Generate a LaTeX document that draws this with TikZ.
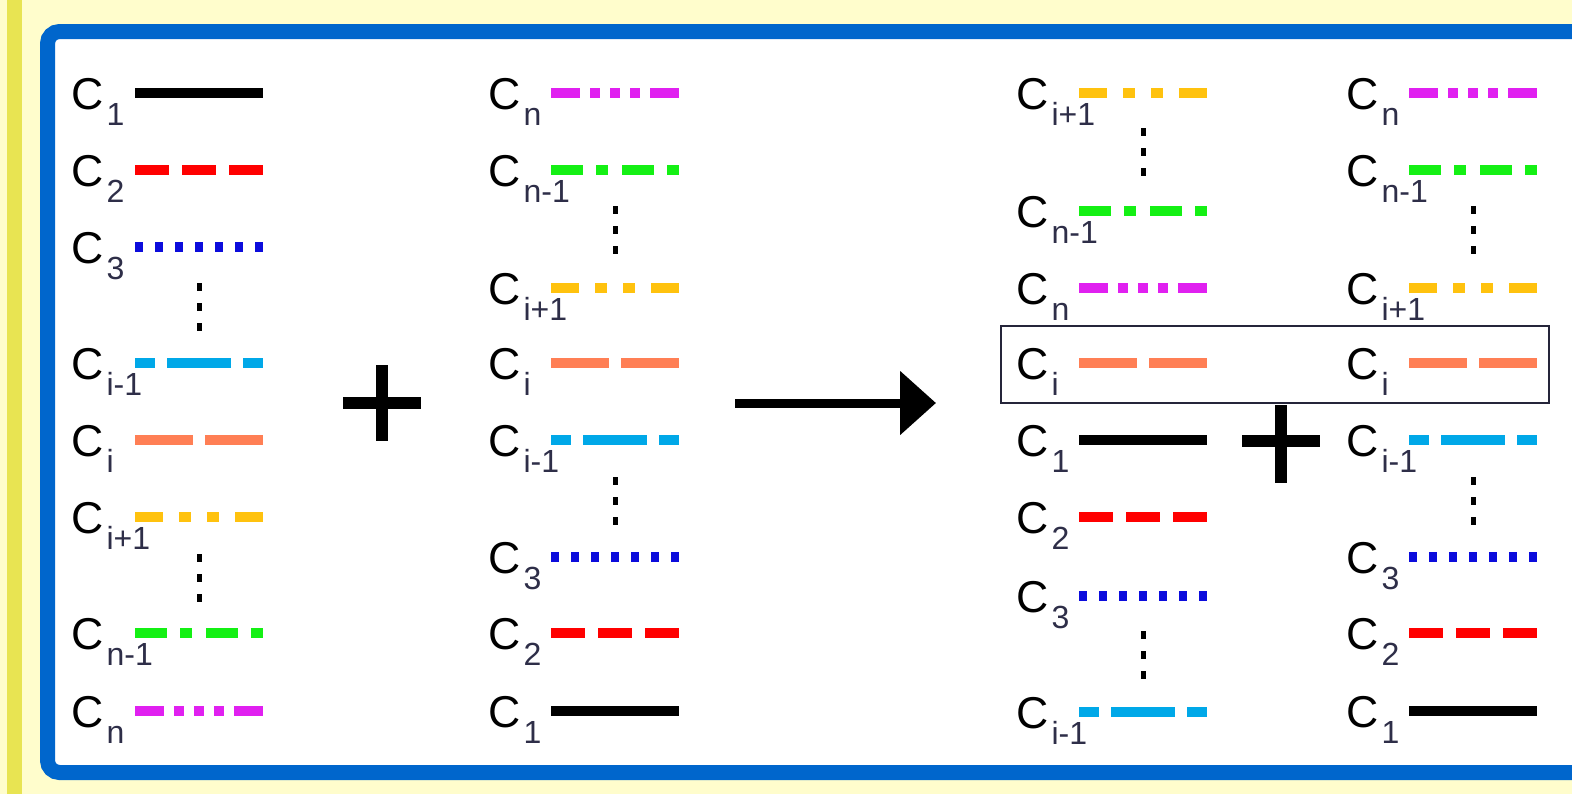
\documentclass[tikz,border=0pt]{standalone}
\usepackage{fontspec}
\setmainfont{Liberation Sans}
\usetikzlibrary{arrows.meta}
\definecolor{bgyellow}{HTML}{FFFDCC}
\definecolor{stripeyellow}{HTML}{E8E452}
\definecolor{frameblue}{HTML}{0066CC}
\definecolor{subgray}{HTML}{2E2E48}
\definecolor{cred}{HTML}{FF0000}
\definecolor{cblue}{HTML}{0C0CDC}
\definecolor{ccyan}{HTML}{00A8E8}
\definecolor{csalmon}{HTML}{FF7F55}
\definecolor{corange}{HTML}{FFC20E}
\definecolor{cgreen}{HTML}{14F014}
\definecolor{cmagenta}{HTML}{E020F0}
\newcommand{\csubs}[1]{\kern1.5pt\raisebox{-8pt}{\fontsize{16}{16}\selectfont\color{subgray}#1}}
\tikzstyle{clabel} = [anchor=base west, inner sep=0pt, font=\fontsize{22.3}{24}\selectfont]
\tikzstyle{strand} = [line width=4.75pt]
\tikzstyle{c1line} = [strand, black]
\tikzstyle{c2line} = [strand, cred, dash pattern=on 17pt off 6.5pt]
\tikzstyle{c3line} = [strand, cblue, dash pattern=on 4pt off 6pt]
\tikzstyle{cim1line} = [strand, ccyan, dash pattern=on 10pt off 6pt on 32pt off 6pt on 10pt off 20pt]
\tikzstyle{ciline} = [strand, csalmon, dash pattern=on 29pt off 6pt on 29pt off 20pt]
\tikzstyle{cip1line} = [strand, corange, dash pattern=on 14pt off 8pt on 6pt off 8pt on 6pt off 8pt on 14pt off 20pt]
\tikzstyle{cnm1line} = [strand, cgreen, dash pattern=on 16pt off 6.5pt on 6pt off 7pt]
\tikzstyle{cnline} = [strand, cmagenta, dash pattern=on 14.5pt off 5pt on 5pt off 5pt on 5pt off 5pt on 5pt off 5pt on 14.5pt off 20pt]
\tikzstyle{vdots} = [line width=2.5pt, dash pattern=on 4pt off 6pt]
\tikzstyle{plus} = [line width=6pt]
\tikzstyle{bigarrow} = [line width=4.5pt, -{Triangle[length=18pt, width=31pt]}]
\begin{document}
\begin{tikzpicture}[x=0.5pt, y=-0.5pt]
	\clip (0,0) rectangle (1572,794);
	\useasboundingbox (0,0) rectangle (1572,794);
	% background and frame
	\fill[bgyellow] (0,0) rectangle (1572,794);
	\fill[stripeyellow] (7,0) rectangle (22,794);
	\draw[frameblue, fill=white, line width=7.5pt, rounded corners=6pt] (47.5,31.5) rectangle (1600,772.5);
	
	% first list
	\foreach \y/\sub/\st [count=\k] in {93/1/c1line, 170/2/c2line, 247/3/c3line, 363/i-1/cim1line, 440/i/ciline, 517/i+1/cip1line, 633/n-1/cnm1line, 711/n/cnline}{
		\node[clabel] (a\k) at (71,\y+16) {C\csubs{\sub}};
		\draw[\st] (135,\y) -- ++(128,0);
	}
	\draw[vdots] (199,283) -- (199,331);
	\draw[vdots] (199,554) -- (199,602);
	
	% second list
	\foreach \y/\sub/\st [count=\k] in {93/n/cnline, 170/n-1/cnm1line, 288/i+1/cip1line, 363/i/ciline, 440/i-1/cim1line, 557/3/c3line, 633/2/c2line, 711/1/c1line}{
		\node[clabel] (b\k) at (488,\y+16) {C\csubs{\sub}};
		\draw[\st] (551,\y) -- ++(128,0);
	}
	\draw[vdots] (615,206) -- (615,254);
	\draw[vdots] (615,477) -- (615,525);
	
	% plus and arrow
	\draw[plus] (343,403) -- (421,403);
	\draw[plus] (382,365) -- (382,441);
	\coordinate (arrow-from) at (735,403);
	\coordinate (arrow-to) at (936,403);
	\draw[bigarrow] (arrow-from) -- (arrow-to);
	
	% third list
	\foreach \y/\sub/\st [count=\k] in {93/i+1/cip1line, 211/n-1/cnm1line, 288/n/cnline, 363/i/ciline, 440/1/c1line, 517/2/c2line, 596/3/c3line, 712/i-1/cim1line}{
		\node[clabel] (c\k) at (1016,\y+16) {C\csubs{\sub}};
		\draw[\st] (1079,\y) -- ++(128,0);
	}
	\draw[vdots] (1143,128) -- (1143,176);
	\draw[vdots] (1143,631) -- (1143,679);
	
	% fourth list
	\foreach \y/\sub/\st [count=\k] in {93/n/cnline, 170/n-1/cnm1line, 288/i+1/cip1line, 363/i/ciline, 440/i-1/cim1line, 557/3/c3line, 633/2/c2line, 711/1/c1line}{
		\node[clabel] (d\k) at (1346,\y+16) {C\csubs{\sub}};
		\draw[\st] (1409,\y) -- ++(128,0);
	}
	\draw[vdots] (1473,206) -- (1473,254);
	\draw[vdots] (1473,477) -- (1473,525);
	
	% box round the two C_i and the second plus
	\draw[subgray!80!black, line width=1pt] (1001,326) rectangle (1549,403);
	\draw[plus] (1242,441) -- (1320,441);
	\draw[plus] (1281,405) -- (1281,483);
\end{tikzpicture}
\end{document}
